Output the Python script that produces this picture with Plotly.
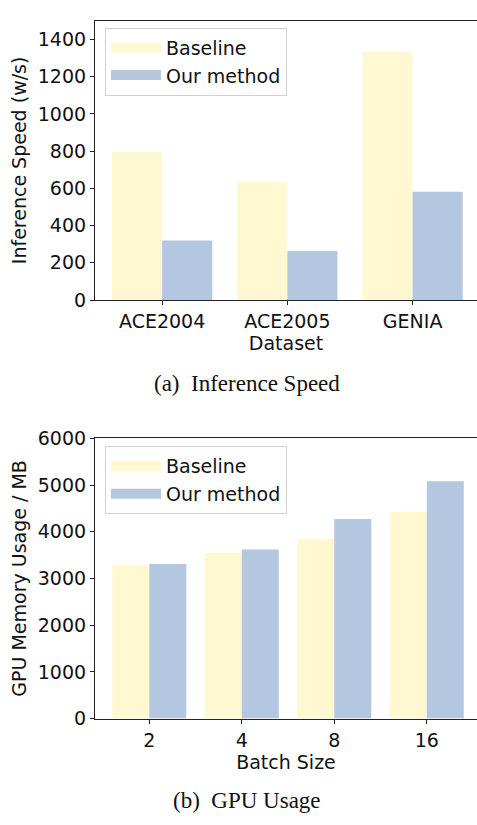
import plotly.graph_objects as go

# Data
datasets = ["ACE2004", "ACE2005", "GENIA"]
speed_baseline = [795, 634, 1334]
speed_ours = [320, 263, 582]

batch_sizes = ["2", "4", "8", "16"]
mem_baseline = [3280, 3550, 3850, 4430]
mem_ours = [3310, 3620, 4270, 5080]

series_names = ["Baseline", "Our method"]

C_BASE = "#FFF8D0"
C_OURS = "#B4C7E0"
W, H = 477, 825
FS = 19
TXT = "#111"

fig = go.Figure()
tickfont = dict(family="DejaVu Sans", size=FS, color=TXT)
titlefont = dict(family="DejaVu Sans", size=FS, color=TXT)


def add_group(cats, base, ours, xa, ya, leg):
    xs = list(range(len(cats)))
    for vals, name, col, off in [(base, series_names[0], C_BASE, -0.4), (ours, series_names[1], C_OURS, 0.0)]:
        fig.add_trace(go.Bar(x=xs, y=vals, name=name, marker=dict(color=col, line=dict(width=0)),
                             offset=off, width=0.4, xaxis=xa, yaxis=ya, showlegend=False))
        # legend-only entry drawn as a wide patch
        fig.add_trace(go.Scatter(x=[None], y=[None], mode="lines", name=name,
                                 line=dict(color=col, width=14), xaxis=xa, yaxis=ya,
                                 legend=leg, hoverinfo="skip"))


add_group(datasets, speed_baseline, speed_ours, "x", "y", "legend")
add_group(batch_sizes, mem_baseline, mem_ours, "x2", "y2", "legend2")

axcommon = dict(showgrid=False, zeroline=False, showline=True, linecolor="#222", linewidth=1.2,
                ticks="outside", ticklen=4, tickcolor="#222", tickfont=tickfont)

legcommon = dict(xanchor="left", yanchor="top", bordercolor="#d0d0d0", borderwidth=1,
                 bgcolor="rgba(255,255,255,0.8)", font=dict(family="DejaVu Sans", size=FS, color=TXT),
                 itemwidth=50, tracegroupgap=0)

x0 = 95 / W
fig.update_layout(
    width=W, height=H, margin=dict(l=0, r=0, t=0, b=0),
    plot_bgcolor="white", paper_bgcolor="white",
    barmode="overlay", showlegend=True,
    xaxis=dict(domain=[x0, 1], range=[-0.536, (477 - 162) / 125.3], tickvals=list(range(3)),
               ticktext=datasets, mirror=True, anchor="y",
               title=dict(text="Dataset", font=titlefont, standoff=0),
               **axcommon),
    yaxis=dict(domain=[(H - 297) / H, (H - 10) / H], range=[0, 1500], tickvals=list(range(0, 1401, 200)),
               anchor="x",
               title=dict(text="Inference Speed (w/s)", font=titlefont, standoff=6),
               **axcommon),
    xaxis2=dict(domain=[x0, 1], range=[-0.587, (477 - 149.3) / 92.5], tickvals=list(range(4)),
                ticktext=batch_sizes, mirror=True, anchor="y2",
                title=dict(text="Batch Size", font=titlefont, standoff=0),
                **axcommon),
    yaxis2=dict(domain=[(H - 727) / H, (H - 439) / H], range=[0, 6000], tickvals=list(range(0, 6001, 1000)),
                anchor="x2",
                title=dict(text="GPU Memory Usage / MB", font=titlefont, standoff=6),
                **axcommon),
    legend=dict(x=105 / W, y=(H - 17) / H, **legcommon),
    legend2=dict(x=105 / W, y=(H - 447) / H, **legcommon),
    annotations=[
        dict(text="(a)  Inference Speed", x=247 / W, y=(H - 383) / H, xref="paper", yref="paper",
             xanchor="center", yanchor="middle",
             showarrow=False, font=dict(family="Liberation Serif", size=23, color=TXT)),
        dict(text="(b)  GPU Usage", x=247 / W, y=(H - 811) / H, xref="paper", yref="paper",
             xanchor="center", yanchor="middle",
             showarrow=False, font=dict(family="Liberation Serif", size=23, color=TXT)),
    ],
)

fig.write_html("out.html")
